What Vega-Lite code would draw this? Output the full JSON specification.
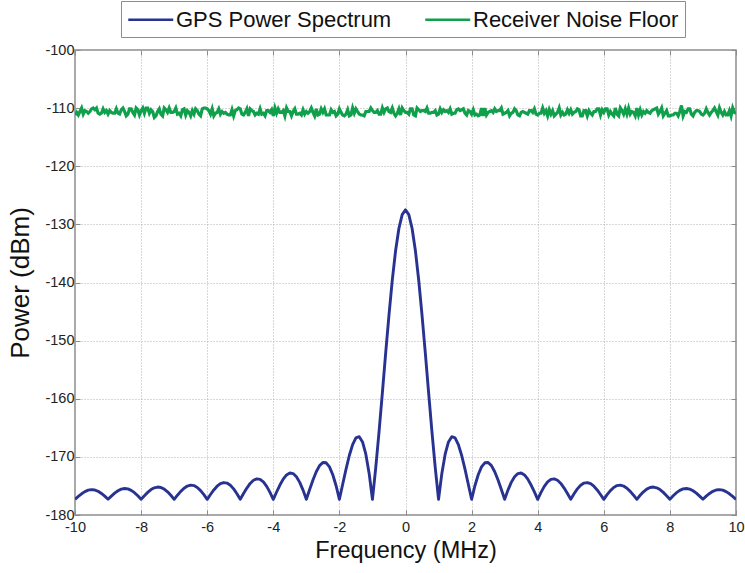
{
  "$schema": "https://vega.github.io/schema/vega-lite/v6.json",
  "width": 661,
  "height": 465,
  "autosize": {"type": "none"},
  "padding": {"left": 75, "top": 50, "right": 9, "bottom": 58},
  "background": "white",
  "config": {
    "font": "Liberation Sans",
    "view": {"stroke": "#8c8c8c", "strokeWidth": 1.5},
    "axis": {
      "domain": false,
      "tickSize": -5,
      "tickColor": "#8c8c8c",
      "tickWidth": 1,
      "labelFont": "Liberation Sans",
      "labelFontSize": 14.5,
      "labelColor": "#222222",
      "labelFlush": false,
      "labelOverlap": false,
      "labelBound": false,
      "labelExpr": "'' + datum.value",
      "titleFont": "Liberation Sans",
      "titleFontWeight": "normal",
      "titleColor": "#111111",
      "gridColor": "#b0b0b0",
      "gridDash": [1, 2],
      "gridWidth": 1
    }
  },
  "datasets": {
    "gps": [
      {"f": -10, "p": -177.3}, {"f": -9.9, "p": -176.81}, {"f": -9.8, "p": -176.35}, {"f": -9.7, "p": -175.98}, {"f": -9.6, "p": -175.73}, {"f": -9.5, "p": -175.63}, {"f": -9.4, "p": -175.7}, {"f": -9.3, "p": -175.92}, {"f": -9.2, "p": -176.29}, {"f": -9.1, "p": -176.76},
      {"f": -9, "p": -177.3}, {"f": -8.9, "p": -176.75}, {"f": -8.8, "p": -176.24}, {"f": -8.7, "p": -175.83}, {"f": -8.6, "p": -175.55}, {"f": -8.5, "p": -175.44}, {"f": -8.4, "p": -175.51}, {"f": -8.3, "p": -175.76}, {"f": -8.2, "p": -176.16}, {"f": -8.1, "p": -176.7},
      {"f": -8, "p": -177.3}, {"f": -7.9, "p": -176.68}, {"f": -7.8, "p": -176.11}, {"f": -7.7, "p": -175.63}, {"f": -7.6, "p": -175.32}, {"f": -7.5, "p": -175.19}, {"f": -7.4, "p": -175.26}, {"f": -7.3, "p": -175.54}, {"f": -7.2, "p": -176.01}, {"f": -7.1, "p": -176.61},
      {"f": -7, "p": -177.3}, {"f": -6.9, "p": -176.59}, {"f": -6.8, "p": -175.93}, {"f": -6.7, "p": -175.39}, {"f": -6.6, "p": -175.02}, {"f": -6.5, "p": -174.86}, {"f": -6.4, "p": -174.94}, {"f": -6.3, "p": -175.26}, {"f": -6.2, "p": -175.8}, {"f": -6.1, "p": -176.5},
      {"f": -6, "p": -177.3}, {"f": -5.9, "p": -176.47}, {"f": -5.8, "p": -175.69}, {"f": -5.7, "p": -175.05}, {"f": -5.6, "p": -174.61}, {"f": -5.5, "p": -174.42}, {"f": -5.4, "p": -174.51}, {"f": -5.3, "p": -174.88}, {"f": -5.2, "p": -175.51}, {"f": -5.1, "p": -176.34},
      {"f": -5, "p": -177.3}, {"f": -4.9, "p": -176.3}, {"f": -4.8, "p": -175.36}, {"f": -4.7, "p": -174.57}, {"f": -4.6, "p": -174.02}, {"f": -4.5, "p": -173.78}, {"f": -4.4, "p": -173.87}, {"f": -4.3, "p": -174.32}, {"f": -4.2, "p": -175.08}, {"f": -4.1, "p": -176.11},
      {"f": -4, "p": -177.3}, {"f": -3.9, "p": -176.04}, {"f": -3.8, "p": -174.85}, {"f": -3.7, "p": -173.83}, {"f": -3.6, "p": -173.11}, {"f": -3.5, "p": -172.77}, {"f": -3.4, "p": -172.87}, {"f": -3.3, "p": -173.41}, {"f": -3.2, "p": -174.39}, {"f": -3.1, "p": -175.72},
      {"f": -3, "p": -177.3}, {"f": -2.9, "p": -175.61}, {"f": -2.8, "p": -173.97}, {"f": -2.7, "p": -172.55}, {"f": -2.6, "p": -171.5}, {"f": -2.5, "p": -170.96}, {"f": -2.4, "p": -171.02}, {"f": -2.3, "p": -171.72}, {"f": -2.2, "p": -173.07}, {"f": -2.1, "p": -174.97},
      {"f": -2, "p": -177.3}, {"f": -1.9, "p": -174.72}, {"f": -1.8, "p": -172.12}, {"f": -1.7, "p": -169.76}, {"f": -1.6, "p": -167.88}, {"f": -1.5, "p": -166.73}, {"f": -1.4, "p": -166.53}, {"f": -1.3, "p": -167.44}, {"f": -1.2, "p": -169.54}, {"f": -1.1, "p": -172.85},
      {"f": -1, "p": -177.3}, {"f": -0.9, "p": -171.86}, {"f": -0.8, "p": -165.65}, {"f": -0.7, "p": -158.98}, {"f": -0.6, "p": -152.17}, {"f": -0.5, "p": -145.6}, {"f": -0.4, "p": -139.61}, {"f": -0.3, "p": -134.55}, {"f": -0.2, "p": -130.71}, {"f": -0.1, "p": -128.31},
      {"f": 0, "p": -127.5},
      {"f": 0.1, "p": -128.31}, {"f": 0.2, "p": -130.71}, {"f": 0.3, "p": -134.55}, {"f": 0.4, "p": -139.61}, {"f": 0.5, "p": -145.6}, {"f": 0.6, "p": -152.17}, {"f": 0.7, "p": -158.98}, {"f": 0.8, "p": -165.65}, {"f": 0.9, "p": -171.86}, {"f": 1, "p": -177.3},
      {"f": 1.1, "p": -172.85}, {"f": 1.2, "p": -169.54}, {"f": 1.3, "p": -167.44}, {"f": 1.4, "p": -166.53}, {"f": 1.5, "p": -166.73}, {"f": 1.6, "p": -167.88}, {"f": 1.7, "p": -169.76}, {"f": 1.8, "p": -172.12}, {"f": 1.9, "p": -174.72}, {"f": 2, "p": -177.3},
      {"f": 2.1, "p": -174.97}, {"f": 2.2, "p": -173.07}, {"f": 2.3, "p": -171.72}, {"f": 2.4, "p": -171.02}, {"f": 2.5, "p": -170.96}, {"f": 2.6, "p": -171.5}, {"f": 2.7, "p": -172.55}, {"f": 2.8, "p": -173.97}, {"f": 2.9, "p": -175.61}, {"f": 3, "p": -177.3},
      {"f": 3.1, "p": -175.72}, {"f": 3.2, "p": -174.39}, {"f": 3.3, "p": -173.41}, {"f": 3.4, "p": -172.87}, {"f": 3.5, "p": -172.77}, {"f": 3.6, "p": -173.11}, {"f": 3.7, "p": -173.83}, {"f": 3.8, "p": -174.85}, {"f": 3.9, "p": -176.04}, {"f": 4, "p": -177.3},
      {"f": 4.1, "p": -176.11}, {"f": 4.2, "p": -175.08}, {"f": 4.3, "p": -174.32}, {"f": 4.4, "p": -173.87}, {"f": 4.5, "p": -173.78}, {"f": 4.6, "p": -174.02}, {"f": 4.7, "p": -174.57}, {"f": 4.8, "p": -175.36}, {"f": 4.9, "p": -176.3}, {"f": 5, "p": -177.3},
      {"f": 5.1, "p": -176.34}, {"f": 5.2, "p": -175.51}, {"f": 5.3, "p": -174.88}, {"f": 5.4, "p": -174.51}, {"f": 5.5, "p": -174.42}, {"f": 5.6, "p": -174.61}, {"f": 5.7, "p": -175.05}, {"f": 5.8, "p": -175.69}, {"f": 5.9, "p": -176.47}, {"f": 6, "p": -177.3},
      {"f": 6.1, "p": -176.5}, {"f": 6.2, "p": -175.8}, {"f": 6.3, "p": -175.26}, {"f": 6.4, "p": -174.94}, {"f": 6.5, "p": -174.86}, {"f": 6.6, "p": -175.02}, {"f": 6.7, "p": -175.39}, {"f": 6.8, "p": -175.93}, {"f": 6.9, "p": -176.59}, {"f": 7, "p": -177.3},
      {"f": 7.1, "p": -176.61}, {"f": 7.2, "p": -176.01}, {"f": 7.3, "p": -175.54}, {"f": 7.4, "p": -175.26}, {"f": 7.5, "p": -175.19}, {"f": 7.6, "p": -175.32}, {"f": 7.7, "p": -175.63}, {"f": 7.8, "p": -176.11}, {"f": 7.9, "p": -176.68}, {"f": 8, "p": -177.3},
      {"f": 8.1, "p": -176.7}, {"f": 8.2, "p": -176.16}, {"f": 8.3, "p": -175.76}, {"f": 8.4, "p": -175.51}, {"f": 8.5, "p": -175.44}, {"f": 8.6, "p": -175.55}, {"f": 8.7, "p": -175.83}, {"f": 8.8, "p": -176.24}, {"f": 8.9, "p": -176.75}, {"f": 9, "p": -177.3},
      {"f": 9.1, "p": -176.76}, {"f": 9.2, "p": -176.29}, {"f": 9.3, "p": -175.92}, {"f": 9.4, "p": -175.7}, {"f": 9.5, "p": -175.63}, {"f": 9.6, "p": -175.73}, {"f": 9.7, "p": -175.98}, {"f": 9.8, "p": -176.35}, {"f": 9.9, "p": -176.81}, {"f": 10, "p": -177.3}
    ],
    "noise": [
      {"f": -10, "p": -111.18}, {"f": -9.95, "p": -110.73}, {"f": -9.9, "p": -111.18}, {"f": -9.85, "p": -110.58}, {"f": -9.8, "p": -109.98}, {"f": -9.75, "p": -111.03}, {"f": -9.7, "p": -110.43}, {"f": -9.65, "p": -110.58}, {"f": -9.6, "p": -110.88}, {"f": -9.55, "p": -110.58},
      {"f": -9.5, "p": -110.13}, {"f": -9.45, "p": -109.98}, {"f": -9.4, "p": -110.28}, {"f": -9.35, "p": -109.98}, {"f": -9.3, "p": -110.88}, {"f": -9.25, "p": -111.03}, {"f": -9.2, "p": -110.88}, {"f": -9.15, "p": -110.13}, {"f": -9.1, "p": -110.73}, {"f": -9.05, "p": -110.43},
      {"f": -9, "p": -111.03}, {"f": -8.95, "p": -110.43}, {"f": -8.9, "p": -110.73}, {"f": -8.85, "p": -110.88}, {"f": -8.8, "p": -110.88}, {"f": -8.75, "p": -110.13}, {"f": -8.7, "p": -110.88}, {"f": -8.65, "p": -111.03}, {"f": -8.6, "p": -110.28}, {"f": -8.55, "p": -109.98},
      {"f": -8.5, "p": -110.58}, {"f": -8.45, "p": -111.33}, {"f": -8.4, "p": -111.03}, {"f": -8.35, "p": -110.13}, {"f": -8.3, "p": -110.13}, {"f": -8.25, "p": -110.73}, {"f": -8.2, "p": -111.18}, {"f": -8.15, "p": -109.98}, {"f": -8.1, "p": -110.28}, {"f": -8.05, "p": -111.18},
      {"f": -8, "p": -110.43}, {"f": -7.95, "p": -109.98}, {"f": -7.9, "p": -110.88}, {"f": -7.85, "p": -109.98}, {"f": -7.8, "p": -109.98}, {"f": -7.75, "p": -110.88}, {"f": -7.7, "p": -110.28}, {"f": -7.65, "p": -110.58}, {"f": -7.6, "p": -111.6}, {"f": -7.55, "p": -111.33},
      {"f": -7.5, "p": -110.58}, {"f": -7.45, "p": -110.13}, {"f": -7.4, "p": -111.03}, {"f": -7.35, "p": -111.33}, {"f": -7.3, "p": -109.98}, {"f": -7.25, "p": -110.28}, {"f": -7.2, "p": -110.73}, {"f": -7.15, "p": -109.98}, {"f": -7.1, "p": -110.73}, {"f": -7.05, "p": -110.73},
      {"f": -7, "p": -110.58}, {"f": -6.95, "p": -109.98}, {"f": -6.9, "p": -111.03}, {"f": -6.85, "p": -110.88}, {"f": -6.8, "p": -111.33}, {"f": -6.75, "p": -110.28}, {"f": -6.7, "p": -110.13}, {"f": -6.65, "p": -111.18}, {"f": -6.6, "p": -110.43}, {"f": -6.55, "p": -110.73},
      {"f": -6.5, "p": -111.33}, {"f": -6.45, "p": -110.43}, {"f": -6.4, "p": -111.03}, {"f": -6.35, "p": -110.13}, {"f": -6.3, "p": -110.43}, {"f": -6.25, "p": -111.03}, {"f": -6.2, "p": -111.33}, {"f": -6.15, "p": -110.13}, {"f": -6.1, "p": -109.98}, {"f": -6.05, "p": -109.98},
      {"f": -6, "p": -110.13}, {"f": -5.95, "p": -110.43}, {"f": -5.9, "p": -111.03}, {"f": -5.85, "p": -110.13}, {"f": -5.8, "p": -111.33}, {"f": -5.75, "p": -110.88}, {"f": -5.7, "p": -110.73}, {"f": -5.65, "p": -110.13}, {"f": -5.6, "p": -111.03}, {"f": -5.55, "p": -110.58},
      {"f": -5.5, "p": -110.88}, {"f": -5.45, "p": -110.73}, {"f": -5.4, "p": -111.03}, {"f": -5.35, "p": -111.18}, {"f": -5.3, "p": -111.18}, {"f": -5.25, "p": -110.28}, {"f": -5.2, "p": -111.33}, {"f": -5.15, "p": -110.43}, {"f": -5.1, "p": -110.28}, {"f": -5.05, "p": -109.98},
      {"f": -5, "p": -110.13}, {"f": -4.95, "p": -111.03}, {"f": -4.9, "p": -111.18}, {"f": -4.85, "p": -110.73}, {"f": -4.8, "p": -110.13}, {"f": -4.75, "p": -111.33}, {"f": -4.7, "p": -110.13}, {"f": -4.65, "p": -110.43}, {"f": -4.6, "p": -110.58}, {"f": -4.55, "p": -111.18},
      {"f": -4.5, "p": -110.88}, {"f": -4.45, "p": -111.03}, {"f": -4.4, "p": -110.13}, {"f": -4.35, "p": -111.03}, {"f": -4.3, "p": -110.88}, {"f": -4.25, "p": -111.33}, {"f": -4.2, "p": -110.43}, {"f": -4.15, "p": -110.43}, {"f": -4.1, "p": -110.73}, {"f": -4.05, "p": -110.28},
      {"f": -4, "p": -111.33}, {"f": -3.95, "p": -109.98}, {"f": -3.9, "p": -110.88}, {"f": -3.85, "p": -110.13}, {"f": -3.8, "p": -110.73}, {"f": -3.75, "p": -110.73}, {"f": -3.7, "p": -110.43}, {"f": -3.65, "p": -111.33}, {"f": -3.6, "p": -109.98}, {"f": -3.55, "p": -110.58},
      {"f": -3.5, "p": -110.58}, {"f": -3.45, "p": -111.33}, {"f": -3.4, "p": -110.58}, {"f": -3.35, "p": -110.13}, {"f": -3.3, "p": -111.03}, {"f": -3.25, "p": -111.03}, {"f": -3.2, "p": -110.88}, {"f": -3.15, "p": -111.18}, {"f": -3.1, "p": -110.28}, {"f": -3.05, "p": -111.03},
      {"f": -3, "p": -110.58}, {"f": -2.95, "p": -110.88}, {"f": -2.9, "p": -110.58}, {"f": -2.85, "p": -109.98}, {"f": -2.8, "p": -110.73}, {"f": -2.75, "p": -111.33}, {"f": -2.7, "p": -110.13}, {"f": -2.65, "p": -111.18}, {"f": -2.6, "p": -111.03}, {"f": -2.55, "p": -110.13},
      {"f": -2.5, "p": -110.73}, {"f": -2.45, "p": -110.13}, {"f": -2.4, "p": -111.18}, {"f": -2.35, "p": -111.18}, {"f": -2.3, "p": -111.18}, {"f": -2.25, "p": -110.28}, {"f": -2.2, "p": -110.73}, {"f": -2.15, "p": -110.58}, {"f": -2.1, "p": -111.33}, {"f": -2.05, "p": -111.03},
      {"f": -2, "p": -110.13}, {"f": -1.95, "p": -110.73}, {"f": -1.9, "p": -111.18}, {"f": -1.85, "p": -111.33}, {"f": -1.8, "p": -111.03}, {"f": -1.75, "p": -110.28}, {"f": -1.7, "p": -111.33}, {"f": -1.65, "p": -111.18}, {"f": -1.6, "p": -109.98}, {"f": -1.55, "p": -110.88},
      {"f": -1.5, "p": -110.13}, {"f": -1.45, "p": -110.58}, {"f": -1.4, "p": -111.03}, {"f": -1.35, "p": -111.18}, {"f": -1.3, "p": -111.18}, {"f": -1.25, "p": -111.33}, {"f": -1.2, "p": -110.58}, {"f": -1.15, "p": -110.58}, {"f": -1.1, "p": -110.58}, {"f": -1.05, "p": -109.98},
      {"f": -1, "p": -110.43}, {"f": -0.95, "p": -110.73}, {"f": -0.9, "p": -110.73}, {"f": -0.85, "p": -110.43}, {"f": -0.8, "p": -111.03}, {"f": -0.75, "p": -111.03}, {"f": -0.7, "p": -109.98}, {"f": -0.65, "p": -110.73}, {"f": -0.6, "p": -110.13}, {"f": -0.55, "p": -109.98},
      {"f": -0.5, "p": -110.58}, {"f": -0.45, "p": -110.73}, {"f": -0.4, "p": -109.98}, {"f": -0.35, "p": -110.88}, {"f": -0.3, "p": -111.33}, {"f": -0.25, "p": -110.88}, {"f": -0.2, "p": -110.13}, {"f": -0.15, "p": -111.18}, {"f": -0.1, "p": -109.98}, {"f": -0.05, "p": -110.43},
      {"f": 0, "p": -110.73}, {"f": 0.05, "p": -110.73}, {"f": 0.1, "p": -111.03}, {"f": 0.15, "p": -110.13}, {"f": 0.2, "p": -110.13}, {"f": 0.25, "p": -111.18}, {"f": 0.3, "p": -111.33}, {"f": 0.35, "p": -109.98}, {"f": 0.4, "p": -110.28}, {"f": 0.45, "p": -110.58},
      {"f": 0.5, "p": -110.43}, {"f": 0.55, "p": -110.43}, {"f": 0.6, "p": -110.58}, {"f": 0.65, "p": -109.98}, {"f": 0.7, "p": -110.88}, {"f": 0.75, "p": -110.88}, {"f": 0.8, "p": -110.73}, {"f": 0.85, "p": -110.73}, {"f": 0.9, "p": -110.43}, {"f": 0.95, "p": -111.18},
      {"f": 1, "p": -111.03}, {"f": 1.05, "p": -110.13}, {"f": 1.1, "p": -110.73}, {"f": 1.15, "p": -110.28}, {"f": 1.2, "p": -110.58}, {"f": 1.25, "p": -110.43}, {"f": 1.3, "p": -110.73}, {"f": 1.35, "p": -110.13}, {"f": 1.4, "p": -111.03}, {"f": 1.45, "p": -110.88},
      {"f": 1.5, "p": -110.88}, {"f": 1.55, "p": -110.28}, {"f": 1.6, "p": -110.13}, {"f": 1.65, "p": -110.43}, {"f": 1.7, "p": -110.28}, {"f": 1.75, "p": -110.13}, {"f": 1.8, "p": -110.88}, {"f": 1.85, "p": -111.18}, {"f": 1.9, "p": -110.43}, {"f": 1.95, "p": -110.58},
      {"f": 2, "p": -111.03}, {"f": 2.05, "p": -110.28}, {"f": 2.1, "p": -111.18}, {"f": 2.15, "p": -111.03}, {"f": 2.2, "p": -111.33}, {"f": 2.25, "p": -111.18}, {"f": 2.3, "p": -109.98}, {"f": 2.35, "p": -111.33}, {"f": 2.4, "p": -109.98}, {"f": 2.45, "p": -111.18},
      {"f": 2.5, "p": -110.73}, {"f": 2.55, "p": -110.58}, {"f": 2.6, "p": -110.43}, {"f": 2.65, "p": -110.73}, {"f": 2.7, "p": -110.13}, {"f": 2.75, "p": -110.58}, {"f": 2.8, "p": -110.43}, {"f": 2.85, "p": -110.43}, {"f": 2.9, "p": -109.98}, {"f": 2.95, "p": -111.03},
      {"f": 3, "p": -110.88}, {"f": 3.05, "p": -110.73}, {"f": 3.1, "p": -110.43}, {"f": 3.15, "p": -111.33}, {"f": 3.2, "p": -110.88}, {"f": 3.25, "p": -110.73}, {"f": 3.3, "p": -110.13}, {"f": 3.35, "p": -110.43}, {"f": 3.4, "p": -111.18}, {"f": 3.45, "p": -111.33},
      {"f": 3.5, "p": -110.73}, {"f": 3.55, "p": -110.58}, {"f": 3.6, "p": -110.73}, {"f": 3.65, "p": -110.88}, {"f": 3.7, "p": -111.03}, {"f": 3.75, "p": -110.43}, {"f": 3.8, "p": -110.43}, {"f": 3.85, "p": -110.73}, {"f": 3.9, "p": -110.13}, {"f": 3.95, "p": -111.03},
      {"f": 4, "p": -111.18}, {"f": 4.05, "p": -110.88}, {"f": 4.1, "p": -110.88}, {"f": 4.15, "p": -109.98}, {"f": 4.2, "p": -110.88}, {"f": 4.25, "p": -110.43}, {"f": 4.3, "p": -111.33}, {"f": 4.35, "p": -110.28}, {"f": 4.4, "p": -111.03}, {"f": 4.45, "p": -110.43},
      {"f": 4.5, "p": -111.33}, {"f": 4.55, "p": -111.03}, {"f": 4.6, "p": -110.73}, {"f": 4.65, "p": -109.98}, {"f": 4.7, "p": -111.18}, {"f": 4.75, "p": -110.73}, {"f": 4.8, "p": -111.18}, {"f": 4.85, "p": -111.03}, {"f": 4.9, "p": -110.28}, {"f": 4.95, "p": -110.88},
      {"f": 5, "p": -110.28}, {"f": 5.05, "p": -111.03}, {"f": 5.1, "p": -110.73}, {"f": 5.15, "p": -110.58}, {"f": 5.2, "p": -110.13}, {"f": 5.25, "p": -110.28}, {"f": 5.3, "p": -111.33}, {"f": 5.35, "p": -111.33}, {"f": 5.4, "p": -110.43}, {"f": 5.45, "p": -110.43},
      {"f": 5.5, "p": -111.33}, {"f": 5.55, "p": -110.43}, {"f": 5.6, "p": -110.88}, {"f": 5.65, "p": -111.18}, {"f": 5.7, "p": -110.58}, {"f": 5.75, "p": -110.58}, {"f": 5.8, "p": -110.13}, {"f": 5.85, "p": -110.13}, {"f": 5.9, "p": -111.18}, {"f": 5.95, "p": -110.28},
      {"f": 6, "p": -110.73}, {"f": 6.05, "p": -110.13}, {"f": 6.1, "p": -110.13}, {"f": 6.15, "p": -111.18}, {"f": 6.2, "p": -110.58}, {"f": 6.25, "p": -111.03}, {"f": 6.3, "p": -111.33}, {"f": 6.35, "p": -109.98}, {"f": 6.4, "p": -111.03}, {"f": 6.45, "p": -111.33},
      {"f": 6.5, "p": -109.98}, {"f": 6.55, "p": -110.43}, {"f": 6.6, "p": -111.03}, {"f": 6.65, "p": -110.13}, {"f": 6.7, "p": -111.03}, {"f": 6.75, "p": -109.98}, {"f": 6.8, "p": -111.03}, {"f": 6.85, "p": -110.58}, {"f": 6.9, "p": -110.73}, {"f": 6.95, "p": -111.33},
      {"f": 7, "p": -109.98}, {"f": 7.05, "p": -111.18}, {"f": 7.1, "p": -110.28}, {"f": 7.15, "p": -111.18}, {"f": 7.2, "p": -110.58}, {"f": 7.25, "p": -110.88}, {"f": 7.3, "p": -110.43}, {"f": 7.35, "p": -110.73}, {"f": 7.4, "p": -110.88}, {"f": 7.45, "p": -110.43},
      {"f": 7.5, "p": -110.28}, {"f": 7.55, "p": -110.13}, {"f": 7.6, "p": -109.98}, {"f": 7.65, "p": -111.03}, {"f": 7.7, "p": -110.58}, {"f": 7.75, "p": -109.98}, {"f": 7.8, "p": -111.33}, {"f": 7.85, "p": -110.88}, {"f": 7.9, "p": -110.43}, {"f": 7.95, "p": -111.33},
      {"f": 8, "p": -111.33}, {"f": 8.05, "p": -111.18}, {"f": 8.1, "p": -111.18}, {"f": 8.15, "p": -110.88}, {"f": 8.2, "p": -110.88}, {"f": 8.25, "p": -111.33}, {"f": 8.3, "p": -110.58}, {"f": 8.35, "p": -109.55}, {"f": 8.4, "p": -111.33}, {"f": 8.45, "p": -110.58},
      {"f": 8.5, "p": -110.73}, {"f": 8.55, "p": -110.13}, {"f": 8.6, "p": -110.13}, {"f": 8.65, "p": -111.03}, {"f": 8.7, "p": -111.33}, {"f": 8.75, "p": -110.73}, {"f": 8.8, "p": -110.43}, {"f": 8.85, "p": -110.43}, {"f": 8.9, "p": -110.58}, {"f": 8.95, "p": -111.03},
      {"f": 9, "p": -111.18}, {"f": 9.05, "p": -110.88}, {"f": 9.1, "p": -110.13}, {"f": 9.15, "p": -110.73}, {"f": 9.2, "p": -111.18}, {"f": 9.25, "p": -110.73}, {"f": 9.3, "p": -110.43}, {"f": 9.35, "p": -109.98}, {"f": 9.4, "p": -110.58}, {"f": 9.45, "p": -111.18},
      {"f": 9.5, "p": -109.98}, {"f": 9.55, "p": -110.73}, {"f": 9.6, "p": -111.18}, {"f": 9.65, "p": -110.58}, {"f": 9.7, "p": -111.18}, {"f": 9.75, "p": -111.18}, {"f": 9.8, "p": -110.43}, {"f": 9.85, "p": -111.33}, {"f": 9.9, "p": -109.98}, {"f": 9.95, "p": -110.73},
      {"f": 10, "p": -110.88}
    ]
  },
  "layer": [
    {
      "data": {"name": "gps"},
      "mark": {"type": "line", "strokeWidth": 2.9, "strokeJoin": "round", "clip": true},
      "encoding": {
        "x": {
          "field": "f", "type": "quantitative",
          "scale": {"domain": [-10, 10], "nice": false, "zero": false},
          "axis": {
            "orient": "bottom",
            "values": [-10, -8, -6, -4, -2, 0, 2, 4, 6, 8, 10],
            "title": "Frequency (MHz)",
            "titleFontSize": 23.5,
            "labelPadding": 10,
            "titlePadding": 5,
            "grid": true
          }
        },
        "y": {
          "field": "p", "type": "quantitative",
          "scale": {"domain": [-180, -100], "nice": false, "zero": false},
          "axis": {
            "orient": "left",
            "values": [-180, -170, -160, -150, -140, -130, -120, -110, -100],
            "title": "Power (dBm)",
            "titleFontSize": 26,
            "labelPadding": 6,
            "titlePadding": 11,
            "grid": true
          }
        },
        "color": {
          "datum": "GPS Power Spectrum",
          "type": "nominal",
          "scale": {"domain": ["GPS Power Spectrum", "Receiver Noise Floor"], "range": ["#283391", "#10a04c"]},
          "legend": {
            "title": null,
            "orient": "none",
            "legendX": 46,
            "legendY": -49,
            "direction": "horizontal",
            "symbolType": "M-1,0L3,0",
            "symbolSize": 506,
            "symbolStrokeWidth": 2.5,
            "labelFont": "Liberation Sans",
            "labelFontSize": 22,
            "labelColor": "#111111",
            "labelOffset": 24,
            "labelLimit": 400,
            "columnPadding": 28,
            "padding": 6,
            "strokeColor": "#8c8c8c",
            "fillColor": "white"
          }
        }
      }
    },
    {
      "data": {"name": "noise"},
      "mark": {"type": "line", "strokeWidth": 3.2, "clip": true},
      "encoding": {
        "x": {
          "field": "f", "type": "quantitative",
          "axis": {"orient": "top", "values": [-10, -8, -6, -4, -2, 0, 2, 4, 6, 8, 10], "labels": false, "title": null, "grid": false}
        },
        "y": {
          "field": "p", "type": "quantitative",
          "axis": {"orient": "right", "values": [-180, -170, -160, -150, -140, -130, -120, -110, -100], "labels": false, "title": null, "grid": false}
        },
        "color": {"datum": "Receiver Noise Floor", "type": "nominal"}
      }
    }
  ],
  "resolve": {"axis": {"x": "independent", "y": "independent"}}
}
